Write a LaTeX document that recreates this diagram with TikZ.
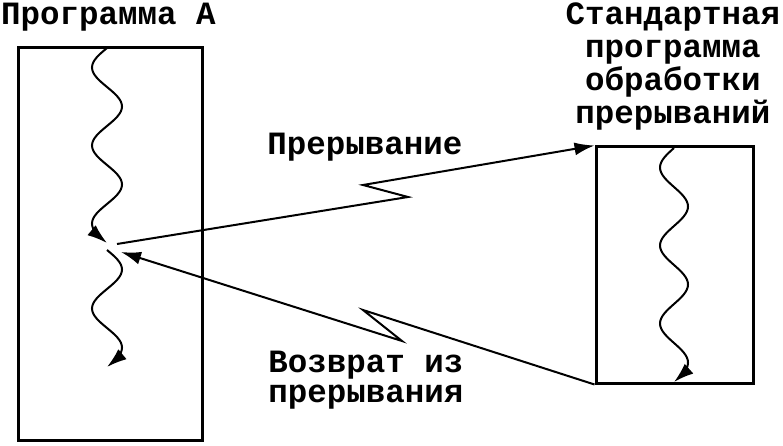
\documentclass[tikz,border=0pt]{standalone}
\usepackage{fontspec}
\setmainfont{Liberation Mono}
\usetikzlibrary{arrows.meta}

\begin{document}
\begin{tikzpicture}[x=1pt,y=-1pt,
  >={Latex[length=20pt,width=13pt]},
  font=\fontsize{32.5}{33}\selectfont\bfseries,
  box/.style={draw,line width=3pt,inner sep=0pt},
  wave/.style={->,line width=2pt},
  zap/.style={->,line width=2pt}]
\useasboundingbox (0,0) rectangle (783,446);
\node[box,minimum width=184pt,minimum height=392pt] (A) at (110,244) {};
\node[box,minimum width=157pt,minimum height=236pt] (B) at (674.5,265) {};
\node[anchor=base west,inner sep=0pt] (Aname) at (1,25) {Программа А};
\node[anchor=north,align=center,inner sep=0pt] (Bname) at (673,3)
  {Стандартная\\программа\\обработки\\прерываний};
\node[anchor=base,inner sep=0pt] (int) at (365,155) {Прерывание};
\node[anchor=base,align=center,inner sep=0pt,
  font=\fontsize{32.5}{30}\selectfont\bfseries] (ret) at (366,402)
  {Возврат из\\прерывания};
% flow of program A and of the handler
\coordinate (a0) at (107,48);
\coordinate (a2) at (107,250);
\coordinate (b0) at (674,148);
\draw[wave] (a0) \foreach \s in {1,-1,1,-1,1}
  { .. controls +(-7.5*\s,6.2) and +(0,-7.1) .. ++(-15*\s,19.5)
    .. controls +(0,7.1) and +(-7.5*\s,-6.2) .. ++(15*\s,19.5)};
\draw[wave] (a2) \foreach \s in {-1,1,-1}
  { .. controls +(-7.5*\s,6.2) and +(0,-7.1) .. ++(-15*\s,19.5)
    .. controls +(0,7.1) and +(-7.5*\s,-6.2) .. ++(15*\s,19.5)};
\draw[wave] (b0) \foreach \s in {1,-1,1,-1,1,-1}
  { .. controls +(-7*\s,6.2) and +(0,-7.1) .. ++(-14*\s,19.5)
    .. controls +(0,7.1) and +(-7*\s,-6.2) .. ++(14*\s,19.5)};
% interrupt and return
\coordinate (i0) at (117,244);
\coordinate (i1) at (408,197);
\coordinate (i2) at (363,185);
\coordinate (r1) at (363,310);
\coordinate (r2) at (402,341);
\coordinate (r3) at (121,252);
\draw[zap] (i0) -- (i1) -- (i2) -- (B.north west);
\draw[zap] (B.south west) -- (r1) -- (r2) -- (r3);
\end{tikzpicture}
\end{document}
